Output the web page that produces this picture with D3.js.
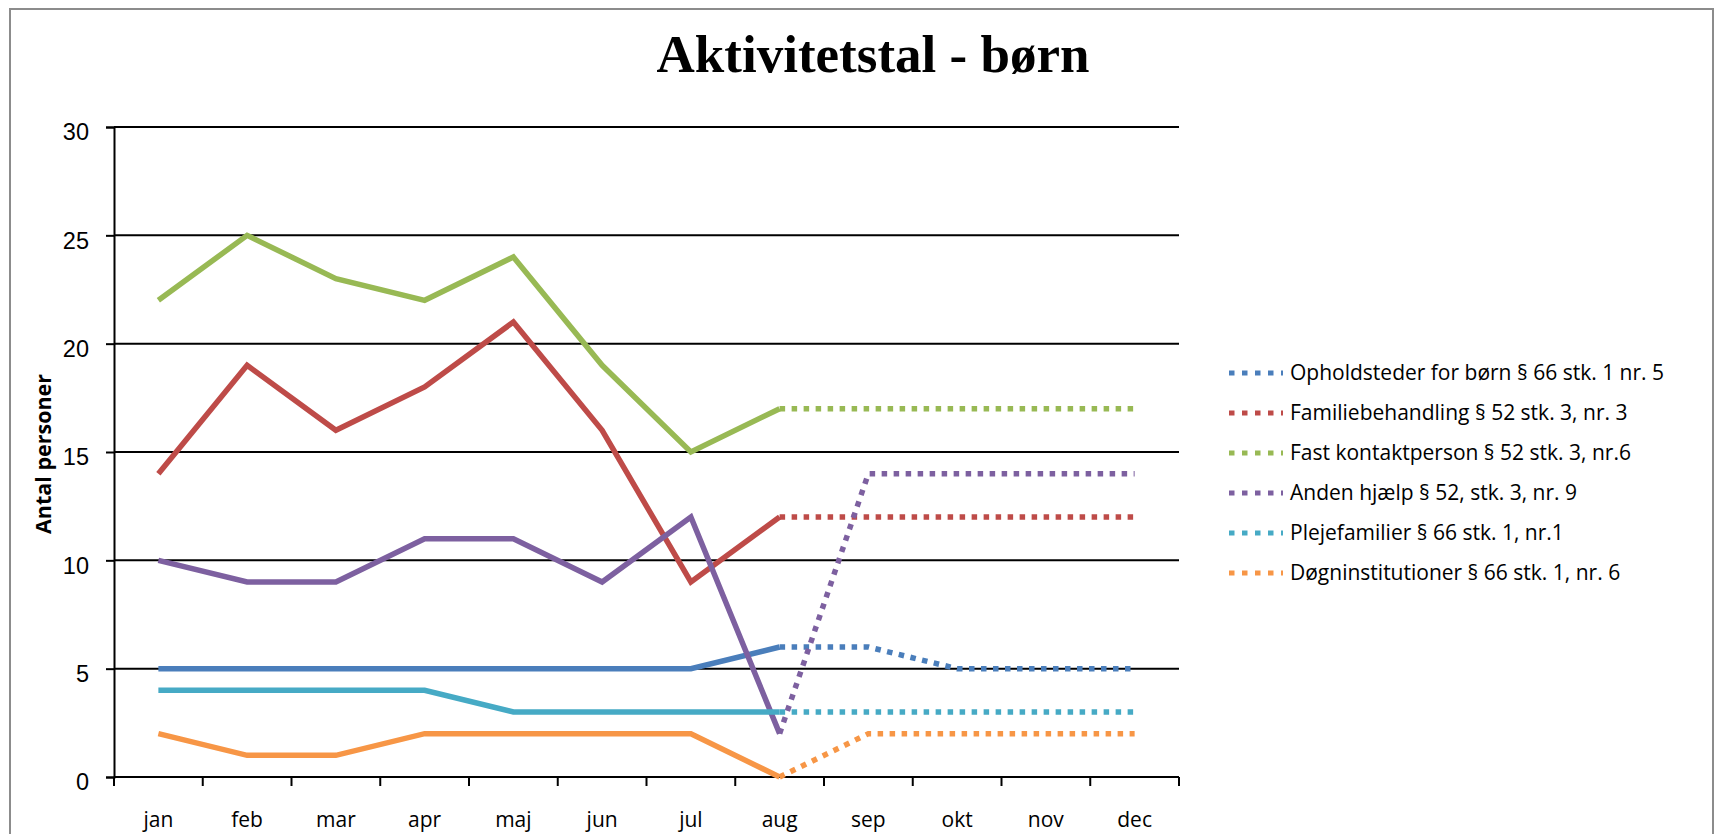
<!DOCTYPE html>
<html>
<head>
<meta charset="utf-8">
<script src="https://cdn.jsdelivr.net/npm/d3@7"></script>
<style>
  body { margin: 0; background: #fff; }
  svg { display: block; }
</style>
</head>
<body>
<div id="chart"></div>
<script>
var months = ["jan", "feb", "mar", "apr", "maj", "jun", "jul", "aug", "sep", "okt", "nov", "dec"];
var forecastMonths = ["aug", "sep", "okt", "nov", "dec"];
var yTicks = [0, 5, 10, 15, 20, 25, 30];

var seriesNames = [
    "Opholdsteder for børn § 66 stk. 1 nr. 5",
    "Familiebehandling § 52 stk. 3, nr. 3",
    "Fast kontaktperson § 52 stk. 3, nr.6",
    "Anden hjælp § 52, stk. 3, nr. 9",
    "Plejefamilier § 66 stk. 1, nr.1",
    "Døgninstitutioner § 66 stk. 1, nr. 6"
];
var seriesColors = ["#4a7ebb", "#be4b48", "#98b954", "#7d60a0", "#46aac5", "#f79646"];

// actual values jan..aug
var opholdsteder = [5, 5, 5, 5, 5, 5, 5, 6];
var familiebehandling = [14, 19, 16, 18, 21, 16, 9, 12];
var kontaktperson = [22, 25, 23, 22, 24, 19, 15, 17];
var andenHjaelp = [10, 9, 9, 11, 11, 9, 12, 2];
var plejefamilier = [4, 4, 4, 4, 3, 3, 3, 3];
var doegninst = [2, 1, 1, 2, 2, 2, 2, 0];

// forecast aug..dec (dotted)
var opholdstederF = [6, 6, 5, 5, 5];
var familiebehandlingF = [12, 12, 12, 12, 12];
var kontaktpersonF = [17, 17, 17, 17, 17];
var andenHjaelpF = [2, 14, 14, 14, 14];
var plejefamilierF = [3, 3, 3, 3, 3];
var doegninstF = [0, 2, 2, 2, 2];

var actual = [opholdsteder, familiebehandling, kontaktperson, andenHjaelp, plejefamilier, doegninst];
var forecast = [opholdstederF, familiebehandlingF, kontaktpersonF, andenHjaelpF, plejefamilierF, doegninstF];

var width = 1715, height = 834;
var plotLeft = 114, plotRight = 1179, plotTop = 127, plotBottom = 777;

var svg = d3.select("#chart").append("svg").attr("width", width).attr("height", height);

// outer chart border
svg.append("rect")
    .attr("x", 10).attr("y", 9)
    .attr("width", 1703).attr("height", 900)
    .attr("fill", "none").attr("stroke", "#8c8c8c").attr("stroke-width", 2);

var x = d3.scaleBand().domain(months).range([plotLeft, plotRight]);
var y = d3.scaleLinear().domain([0, 30]).range([plotBottom, plotTop]);
var cx = function (m) { return x(m) + x.bandwidth() / 2; };

// title
svg.append("text")
    .attr("x", 873).attr("y", 72)
    .attr("text-anchor", "middle")
    .style("font-family", "'Liberation Serif', serif")
    .style("font-weight", "bold")
    .style("font-size", "53px")
    .text("Aktivitetstal - børn");

// gridlines
svg.append("g")
    .selectAll("line")
    .data(yTicks.slice(1))
    .enter().append("line")
    .attr("x1", plotLeft).attr("x2", plotRight)
    .attr("y1", d => y(d)).attr("y2", d => y(d))
    .attr("stroke", "#000").attr("stroke-width", 2);

// y axis
var yAxis = d3.axisLeft(y).tickValues(yTicks).tickSize(8).tickPadding(17);
var gy = svg.append("g").attr("transform", "translate(" + plotLeft + ",0)").call(yAxis);
gy.select(".domain").attr("stroke-width", 2);
gy.selectAll(".tick line").attr("stroke-width", 2);
gy.selectAll("text")
    .attr("dy", "0.55em")
    .style("font-family", "'Liberation Sans', sans-serif")
    .style("font-size", "23.5px")
    .attr("fill", "#000");

// x axis with ticks on band boundaries
var gx = svg.append("g").attr("transform", "translate(0," + plotBottom + ")");
gx.append("line").attr("x1", plotLeft).attr("x2", plotRight).attr("stroke", "#000").attr("stroke-width", 2);
gx.selectAll(".bt")
    .data(months.concat(["end"]))
    .enter().append("line")
    .attr("x1", (d, i) => plotLeft + i * x.bandwidth())
    .attr("x2", (d, i) => plotLeft + i * x.bandwidth())
    .attr("y1", 0).attr("y2", 9)
    .attr("stroke", "#000").attr("stroke-width", 2);
gx.selectAll(".lbl")
    .data(months)
    .enter().append("text")
    .attr("x", d => cx(d))
    .attr("y", 50)
    .attr("text-anchor", "middle")
    .style("font-family", "'Open Sans', sans-serif")
    .style("font-size", "21px")
    .text(d => d);

// y axis title
svg.append("text")
    .attr("transform", "translate(51,454) rotate(-90)")
    .attr("text-anchor", "middle")
    .style("font-family", "'Open Sans', sans-serif")
    .style("font-weight", "bold")
    .style("font-size", "21.5px")
    .text("Antal personer");

var line = d3.line().x(d => cx(d.m)).y(d => y(d.v));

var gl = svg.append("g");
for (var i = 0; i < seriesNames.length; i++) {
    var solid = actual[i].map((v, j) => ({m: months[j], v: v}));
    var dotted = forecast[i].map((v, j) => ({m: forecastMonths[j], v: v}));
    gl.append("path")
        .attr("d", line(solid))
        .attr("fill", "none")
        .attr("stroke", seriesColors[i])
        .attr("stroke-width", 5.5);
    gl.append("path")
        .attr("d", line(dotted))
        .attr("fill", "none")
        .attr("stroke", seriesColors[i])
        .attr("stroke-width", 5.5)
        .attr("stroke-dasharray", "5.5,6.5");
}

// legend
var legend = svg.append("g");
var rows = legend.selectAll("g")
    .data(seriesNames)
    .enter().append("g")
    .attr("transform", (d, i) => "translate(1229," + (373 + i * 40) + ")");
rows.append("line")
    .attr("x1", 0).attr("x2", 54)
    .attr("stroke", (d, i) => seriesColors[i])
    .attr("stroke-width", 5)
    .attr("stroke-dasharray", "5.5,7.5");
rows.append("text")
    .attr("x", 61).attr("y", 7)
    .style("font-family", "'Open Sans', sans-serif")
    .style("font-size", "21px")
    .text(d => d);
</script>
</body>
</html>
